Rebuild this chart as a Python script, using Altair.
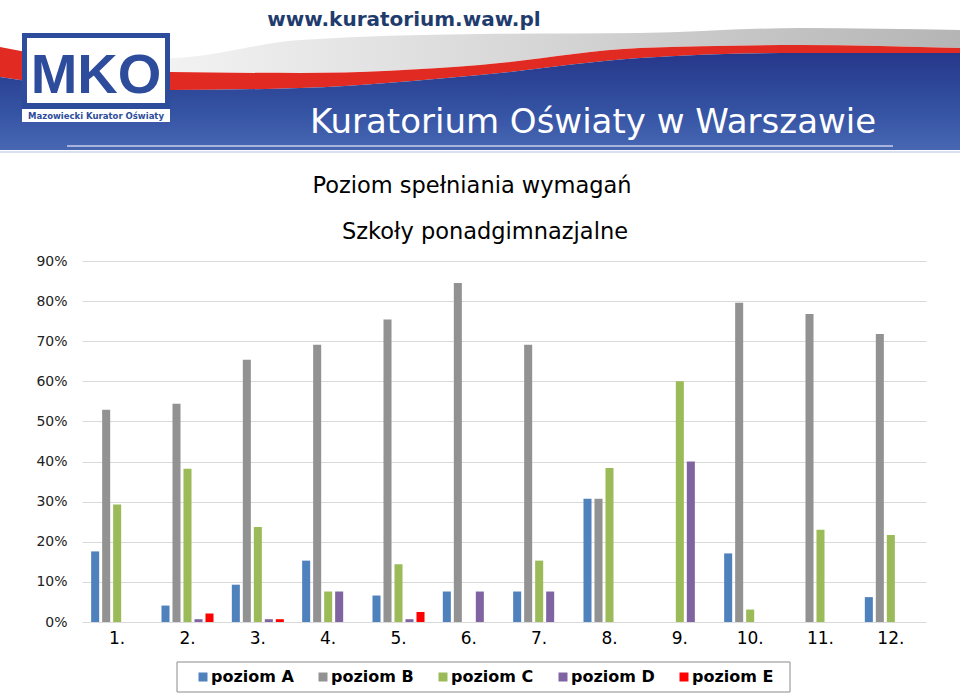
import altair as alt
import pandas as pd

# ---------------- data ----------------
categories = ["1.", "2.", "3.", "4.", "5.", "6.", "7.", "8.", "9.", "10.", "11.", "12."]
series = ["poziom A", "poziom B", "poziom C", "poziom D", "poziom E"]
poziom_A = [17.6, 4.1, 9.3, 15.3, 6.6, 7.6, 7.6, 30.7, 0.0, 17.1, 0.0, 6.2]
poziom_B = [52.9, 54.4, 65.4, 69.1, 75.4, 84.5, 69.1, 30.7, 0.0, 79.6, 76.8, 71.8]
poziom_C = [29.3, 38.2, 23.7, 7.6, 14.4, 0.0, 15.3, 38.4, 60.0, 3.1, 23.0, 21.7]
poziom_D = [0.0, 0.7, 0.7, 7.6, 0.7, 7.6, 7.6, 0.0, 40.0, 0.0, 0.0, 0.0]
poziom_E = [0.0, 2.1, 0.7, 0.0, 2.5, 0.0, 0.0, 0.0, 0.0, 0.0, 0.0, 0.0]
y_ticks = [0, 10, 20, 30, 40, 50, 60, 70, 80, 90]

title_1 = "Poziom spełniania wymagań"
title_2 = "Szkoły ponadgimnazjalne"
banner_url = "www.kuratorium.waw.pl"
banner_name = "Kuratorium Oświaty w Warszawie"
logo_text = "MKO"
logo_caption = "Mazowiecki Kurator Oświaty"

# ---------------- styles / layout ----------------
colors = ["#4F81BD", "#929292", "#9BBB59", "#8064A2", "#FF0000"]
FONT = "DejaVu Sans"
OX, OY = 82, 261          # plot origin on the page
W, H = 844, 361           # plot area


def rx(v):
    return v - OX


def ry(v):
    return v - OY


rows = []
for s, vals in zip(series, [poziom_A, poziom_B, poziom_C, poziom_D, poziom_E]):
    for c, v in zip(categories, vals):
        rows.append({"kat": c, "seria": s, "wartosc": v})
df = pd.DataFrame(rows)

one = pd.DataFrame({"d": [0]})

# ---------------- banner decoration (page pixels) ----------------
wave_x = [0, 60, 170, 300, 480, 640, 800, 960]
wave_gray = [47, 50, 58, 40, 34, 33, 28, 30]
wave_red = [47, 58, 72, 73, 65, 48, 45, 48]
wave_blue = [77, 85, 90, 88, 75, 58, 53, 53]
wave = pd.DataFrame({
    "x": [rx(v) for v in wave_x],
    "g": [ry(v) for v in wave_gray],
    "r": [ry(v) for v in wave_red],
    "b": [ry(v) for v in wave_blue],
    "bottom": [ry(150)] * len(wave_x),
})

gray_band = alt.Chart(wave).mark_area(
    color=alt.LinearGradient(gradient="linear", x1=0, x2=1, y1=0, y2=0,
                             stops=[alt.GradientStop(color="#FFFFFF", offset=0),
                                    alt.GradientStop(color="#E2E2E2", offset=0.4),
                                    alt.GradientStop(color="#B5B5B5", offset=1)]),
    interpolate="monotone"
).encode(x=alt.X("x:Q", scale=None), y=alt.Y("g:Q", scale=None), y2="r:Q")

red_band = alt.Chart(wave).mark_area(color="#E12A21", interpolate="monotone").encode(
    x=alt.X("x:Q", scale=None), y=alt.Y("r:Q", scale=None), y2="b:Q")

blue_band = alt.Chart(wave).mark_area(
    color=alt.LinearGradient(gradient="linear", x1=0, x2=0, y1=0, y2=1,
                             stops=[alt.GradientStop(color="#26378A", offset=0),
                                    alt.GradientStop(color="#3553A3", offset=0.6),
                                    alt.GradientStop(color="#4767B3", offset=1)]),
    interpolate="monotone"
).encode(x=alt.X("x:Q", scale=None), y=alt.Y("b:Q", scale=None), y2="bottom:Q")


def rect(x1, y1, x2, y2, **kw):
    return alt.Chart(one).mark_rect(**kw).encode(
        x=alt.value(rx(x1)), x2=alt.value(rx(x2)),
        y=alt.value(ry(y1)), y2=alt.value(ry(y2)))


def rule(x1, x2, y, color, width):
    return alt.Chart(one).mark_rule(color=color, strokeWidth=width).encode(
        x=alt.value(rx(x1)), x2=alt.value(rx(x2)), y=alt.value(ry(y)))


def text(t, x, y, size, color, weight="normal", font=FONT, align="center"):
    return alt.Chart(one).mark_text(
        text=t, font=font, fontSize=size, fontWeight=weight, color=color,
        align=align, baseline="alphabetic").encode(
        x=alt.value(rx(x)), y=alt.value(ry(y)))


banner = [
    gray_band, red_band, blue_band,
    rule(67, 893, 146, "#C9D1EC", 1.5),
    rule(0, 960, 152, "#D9DEF0", 2),
    rect(22, 33, 170, 109, color="#2D4C9B"),
    rect(27, 38, 165, 103, color="#FFFFFF"),
    rect(22, 109, 170, 122, color="#FFFFFF"),
    text(logo_text, 96, 93, 56, "#2D4C9B", "bold", font="Liberation Sans"),
    text(logo_caption, 96, 119, 8.5, "#2D4C9B", "bold"),
    text(banner_url, 404, 26, 20, "#1F3C6E", "bold"),
    text(banner_name, 593, 133, 34, "#FFFFFF"),
]

titles = [
    text(title_1, 472, 193, 22.5, "#000000"),
    text(title_2, 485, 239, 22.5, "#000000"),
]

legend_box = rect(177, 662, 790, 692, fill="#FFFFFF", stroke="#8A8A8A", strokeWidth=1)

# ---------------- bars ----------------
bars = alt.Chart(df).mark_bar().encode(
    x=alt.X("kat:N", sort=categories,
            scale=alt.Scale(paddingInner=0.218, paddingOuter=0.109),
            axis=alt.Axis(title=None, labelAngle=0, ticks=False, domain=False,
                          labelFont=FONT, labelFontSize=17, labelColor="#000000",
                          labelPadding=8, grid=False)),
    xOffset=alt.XOffset("seria:N", sort=series,
                        scale=alt.Scale(paddingInner=0.27, paddingOuter=0.135)),
    y=alt.Y("wartosc:Q", scale=alt.Scale(domain=[0, 90], nice=False),
            axis=alt.Axis(title=None, values=y_ticks, labelExpr="datum.value + '%'",
                          grid=True, gridColor="#D9D9D9", gridWidth=1,
                          domain=False, ticks=False, labelFont=FONT,
                          labelFontSize=14, labelColor="#222222", labelPadding=15)),
    color=alt.Color("seria:N", sort=series,
                    scale=alt.Scale(domain=series, range=colors),
                    legend=alt.Legend(title=None, orient="none", legendX=113, legendY=408,
                                      direction="horizontal", symbolType="square",
                                      symbolSize=81, symbolStrokeWidth=0,
                                      labelFont=FONT, labelFontSize=16,
                                      labelFontWeight="bold", labelColor="#000000",
                                      labelOffset=0, columnPadding=21, padding=0,
                                      labelLimit=300)),
)

chart = alt.layer(*banner, *titles, legend_box, bars).resolve_scale(
    x="independent", y="independent"
).properties(
    width=W, height=H,
    padding={"left": OX, "top": OY, "right": 960 - OX - W, "bottom": 694 - OY - H},
    autosize=alt.AutoSizeParams(type="none"),
    background="#FFFFFF",
).configure_view(stroke=None)

chart.save("out.html", embed_options={"renderer": "svg", "actions": False})
